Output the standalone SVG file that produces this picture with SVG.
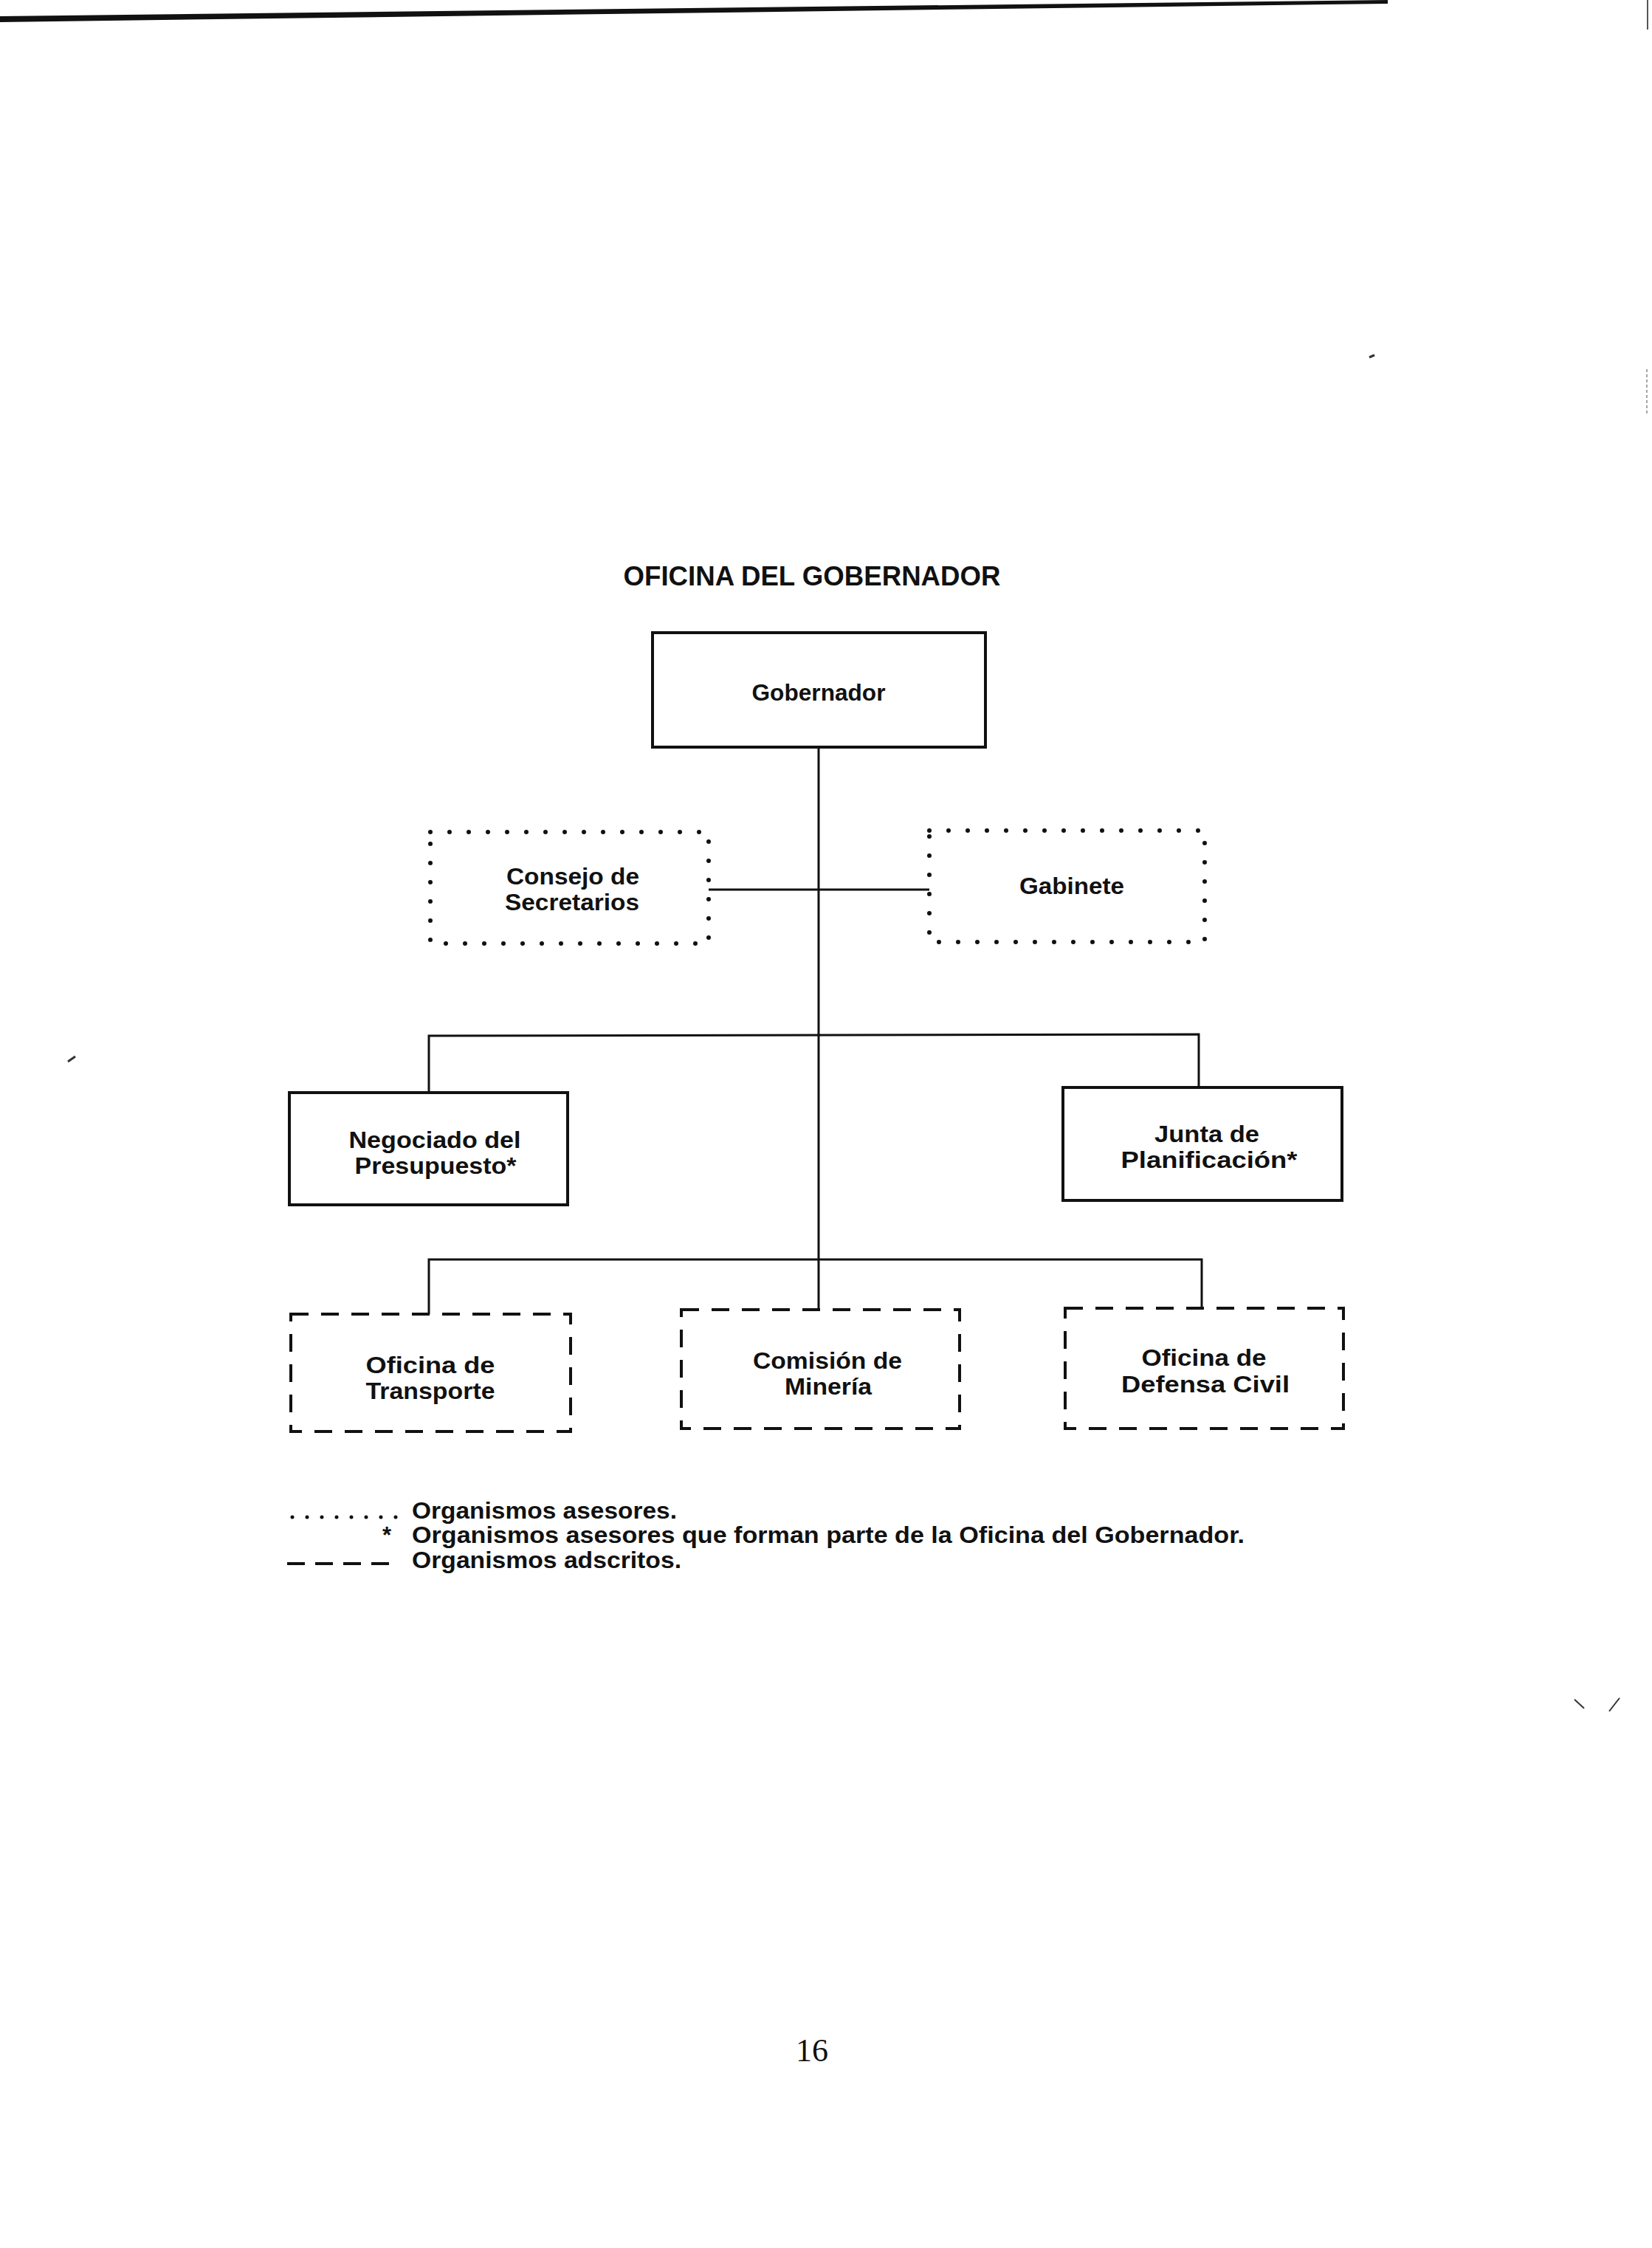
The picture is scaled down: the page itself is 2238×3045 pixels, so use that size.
<svg xmlns="http://www.w3.org/2000/svg" width="2238" height="3045" viewBox="0 0 2238 3045">
<style>
.t{font-family:"Liberation Sans",Arial,sans-serif;font-weight:bold;fill:#111;text-anchor:middle}
.lg{font-family:"Liberation Sans",Arial,sans-serif;font-weight:bold;fill:#111;font-size:31px}
.solid{fill:none;stroke:#111;stroke-width:4}
.dot{fill:none;stroke:#111;stroke-width:6;stroke-linecap:round;stroke-dasharray:0 26}
.dash{fill:none;stroke:#111;stroke-width:4;stroke-dasharray:24 17}
.conn{fill:none;stroke:#111;stroke-width:3}
</style>
<rect width="2238" height="3045" fill="#fff"/>
<polygon points="0,22 1880,0 1880,5 0,30" fill="#111"/>
<line x1="2232" y1="0" x2="2232" y2="40" stroke="#555" stroke-width="2"/>
<text x="1100" y="793" class="t" font-size="36" textLength="511" lengthAdjust="spacingAndGlyphs">OFICINA DEL GOBERNADOR</text>

<g id="connectors">
<line class="conn" x1="1109" y1="1012" x2="1109" y2="1774"/>
<line class="conn" x1="960" y1="1205" x2="1259" y2="1205" stroke-width="4"/>
<polyline class="conn" points="581,1480 581,1403 1624,1401 1624,1473"/>
<polyline class="conn" points="581,1780 581,1706 1628,1706 1628,1772"/>
</g>

<g id="gobernador">
<rect class="solid" x="884" y="857" width="451" height="155"/>
<text class="t" x="1109" y="949" font-size="32" textLength="181" lengthAdjust="spacingAndGlyphs">Gobernador</text>
</g>
<g id="consejo">
<rect class="dot" x="583" y="1127" width="377" height="151"/>
<text class="t" x="776" y="1198" font-size="32" textLength="180" lengthAdjust="spacingAndGlyphs">Consejo de</text>
<text class="t" x="775" y="1233" font-size="32" textLength="182" lengthAdjust="spacingAndGlyphs">Secretarios</text>
</g>
<g id="gabinete">
<rect class="dot" x="1259" y="1125" width="373" height="151"/>
<text class="t" x="1452" y="1211" font-size="32" textLength="142" lengthAdjust="spacingAndGlyphs">Gabinete</text>
</g>
<g id="negociado">
<rect class="solid" x="392" y="1480" width="377" height="152"/>
<text class="t" x="589" y="1555" font-size="32" textLength="233" lengthAdjust="spacingAndGlyphs">Negociado del</text>
<text class="t" x="590" y="1590" font-size="32" textLength="219" lengthAdjust="spacingAndGlyphs">Presupuesto*</text>
</g>
<g id="junta">
<rect class="solid" x="1440" y="1473" width="378" height="153"/>
<text class="t" x="1635" y="1547" font-size="32" textLength="142" lengthAdjust="spacingAndGlyphs">Junta de</text>
<text class="t" x="1638" y="1582" font-size="32" textLength="239" lengthAdjust="spacingAndGlyphs">Planificación*</text>
</g>
<g id="transporte">
<rect class="dash" x="394" y="1780" width="379" height="159"/>
<text class="t" x="583" y="1860" font-size="32" textLength="175" lengthAdjust="spacingAndGlyphs">Oficina de</text>
<text class="t" x="583" y="1895" font-size="32" textLength="175" lengthAdjust="spacingAndGlyphs">Transporte</text>
</g>
<g id="mineria">
<rect class="dash" x="923" y="1774" width="377" height="161"/>
<text class="t" x="1121" y="1854" font-size="32" textLength="202" lengthAdjust="spacingAndGlyphs">Comisión de</text>
<text class="t" x="1122" y="1889" font-size="32" textLength="118" lengthAdjust="spacingAndGlyphs">Minería</text>
</g>
<g id="defensa">
<rect class="dash" x="1443" y="1772" width="377" height="163"/>
<text class="t" x="1631" y="1850" font-size="32" textLength="169" lengthAdjust="spacingAndGlyphs">Oficina de</text>
<text class="t" x="1633" y="1886" font-size="32" textLength="228" lengthAdjust="spacingAndGlyphs">Defensa Civil</text>
</g>

<g id="legend">
<line x1="396" y1="2055" x2="537" y2="2055" stroke="#111" stroke-width="5" stroke-linecap="round" stroke-dasharray="0 20"/>
<text class="lg" x="558" y="2057" textLength="359" lengthAdjust="spacingAndGlyphs">Organismos asesores.</text>
<text class="lg" x="518" y="2090">*</text>
<text class="lg" x="558" y="2090" textLength="1128" lengthAdjust="spacingAndGlyphs">Organismos asesores que forman parte de la Oficina del Gobernador.</text>
<line x1="389" y1="2118" x2="536" y2="2118" stroke="#111" stroke-width="4" stroke-dasharray="24 14"/>
<text class="lg" x="558" y="2124" textLength="365" lengthAdjust="spacingAndGlyphs">Organismos adscritos.</text>
</g>

<text x="1100" y="2792" font-family="Liberation Serif,Times New Roman,serif" font-size="44" text-anchor="middle" fill="#111">16</text>

<g id="marks" stroke="#333" fill="none" stroke-width="3">
<line x1="1855" y1="484" x2="1862" y2="481"/>
<line x1="92" y1="1438" x2="102" y2="1431"/>
<path d="M2133,2302 L2146,2314 M2180,2318 L2194,2300" stroke-width="2"/>
<line x1="2231" y1="500" x2="2231" y2="560" stroke="#888" stroke-width="1.5" stroke-dasharray="4 3"/>
</g>
</svg>
